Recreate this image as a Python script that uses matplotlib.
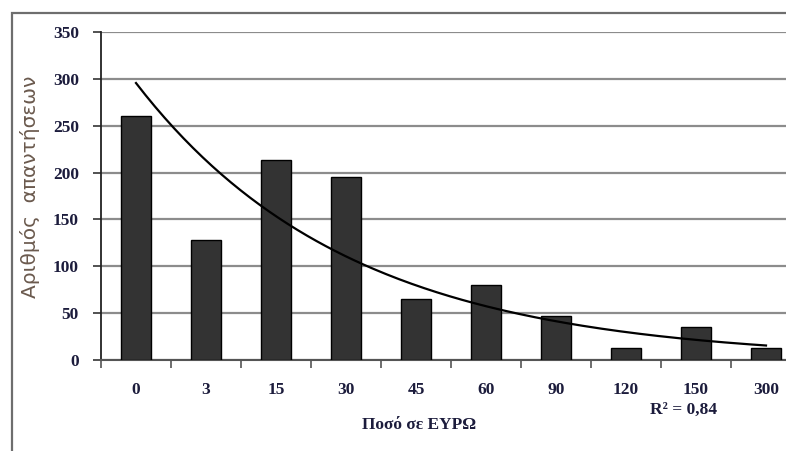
import numpy as np
import matplotlib
matplotlib.use('Agg')
import matplotlib.pyplot as plt
from matplotlib.patches import Rectangle

# Δεδομένα
categories = ['0', '3', '15', '30', '45', '60', '90', '120', '150', '300']
responses = [260, 128, 213, 195, 65, 80, 47, 13, 35, 13]
y_ticks = [0, 50, 100, 150, 200, 250, 300, 350]

x = np.arange(len(categories))

# εκθετική γραμμή τάσης (όπως στο Excel), x = 1..n
coef = np.polyfit(x + 1, np.log(responses), 1)
x_fit = np.linspace(0, len(categories) - 1, 200)
y_fit = np.exp(coef[1]) * np.exp(coef[0] * (x_fit + 1))

fig = plt.figure(figsize=(7.86, 4.51), dpi=100)
fig.patch.set_facecolor('white')

# πλαίσιο γύρω από το γράφημα
fig.patches.append(Rectangle((12 / 786, -0.05), 1.2, (451 - 13) / 451 + 0.05,
                             transform=fig.transFigure, fill=False,
                             edgecolor='#6e6e6e', linewidth=1.6))

ax = fig.add_axes([101 / 786, 91 / 451, 700 / 786, 328 / 451])
ax.set_facecolor('white')

ax.bar(x, responses, width=0.42, color='#333333', edgecolor='black', linewidth=1.0, zorder=3)
ax.plot(x_fit, y_fit, color='black', linewidth=1.6, zorder=4)

ax.set_xlim(-0.5, len(categories) - 0.5)
ax.set_ylim(0, 350)
ax.set_yticks(y_ticks)
ax.yaxis.grid(True, color='#8c8c8c', linewidth=1.6, zorder=0)
ax.set_axisbelow(True)

ax.set_xticks(x)
ax.set_xticklabels(categories)
ax.set_xticks(np.arange(-0.5, len(categories), 1), minor=True)
ax.tick_params(axis='x', which='major', length=0, pad=16)
ax.tick_params(axis='x', which='minor', length=6, width=1.2, color='#555555', direction='out')
ax.tick_params(axis='y', length=6, width=1.2, color='#333333', direction='out', pad=10)

for lab in ax.get_xticklabels() + ax.get_yticklabels():
    lab.set_fontfamily('Liberation Serif')
    lab.set_fontweight('bold')
    lab.set_fontsize(12.5)
    lab.set_color('#1c1c3c')

for s in ['top', 'right']:
    ax.spines[s].set_visible(False)
ax.spines['left'].set_color('#222222')
ax.spines['left'].set_linewidth(1.3)
ax.spines['bottom'].set_color('#555555')
ax.spines['bottom'].set_linewidth(1.5)

fig.text(419 / 786, 1 - 425 / 451, 'Ποσό σε ΕΥΡΩ', ha='center', va='center',
         fontfamily='Liberation Serif', fontweight='bold', fontsize=12.5, color='#1c1c3c')
fig.text(30 / 786, 1 - 187 / 451, 'Αριθμός  απαντήσεων', ha='center', va='center',
         rotation=90, fontfamily='DejaVu Sans', fontsize=14.5, color='#6b5a4e')
fig.text(684 / 786, 1 - 410 / 451, 'R² = 0,84', ha='center', va='center',
         fontfamily='Liberation Serif', fontweight='bold', fontsize=12.5, color='#1c1c3c')

fig.savefig('out.png', dpi=100)
